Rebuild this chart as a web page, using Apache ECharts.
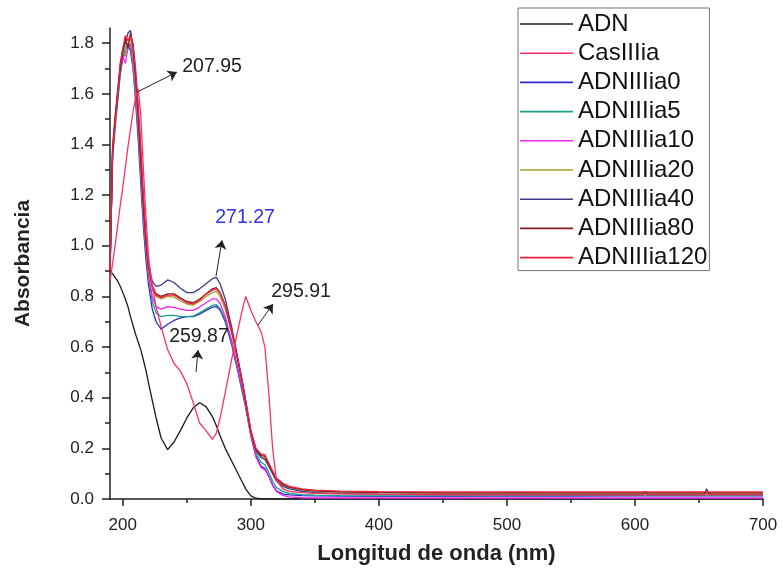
<!DOCTYPE html>
<html>
<head>
<meta charset="utf-8">
<script src="https://cdn.jsdelivr.net/npm/echarts@6/dist/echarts.min.js"></script>
<style>
  html, body { margin: 0; padding: 0; background: #fff; }
  #chart { width: 783px; height: 581px; }
</style>
</head>
<body>
<div id="chart"></div>
<script>
/* longitudes de onda (nm) */
const wl = [
    190, 192, 194, 196, 198,
    200, 202, 204, 206, 208,
    210, 212, 214, 216, 218,
    220, 223, 226, 230, 235,
    240, 245, 250, 255, 260,
    265, 270, 273, 276, 280,
    285, 290, 293, 296, 300,
    304, 308, 311, 314, 317,
    320, 325, 330, 340, 350,
    370, 400, 450, 500, 550,
    600, 606, 608, 610, 650,
    654, 656, 658, 700
];

const adn = [
    0.90, 0.89, 0.875, 0.86, 0.84,
    0.815, 0.79, 0.76, 0.72, 0.685,
    0.65, 0.62, 0.59, 0.55, 0.51,
    0.46, 0.39, 0.32, 0.24, 0.195,
    0.225, 0.27, 0.32, 0.36, 0.38,
    0.365, 0.325, 0.29, 0.25, 0.20,
    0.15, 0.10, 0.07, 0.04, 0.012,
    0.003, 0, 0, 0, 0,
    0, 0, 0, 0, 0,
    0, 0, 0, 0, 0,
    0, 0, 0, 0, 0,
    0, 0, 0, 0
];

const casIIIia = [
    0.86, 0.93, 1.00, 1.08, 1.16,
    1.23, 1.31, 1.39, 1.46, 1.53,
    1.585, 1.62, 1.52, 1.31, 1.12,
    0.96, 0.84, 0.76, 0.68, 0.59,
    0.535, 0.505, 0.455, 0.38, 0.30,
    0.27, 0.235, 0.26, 0.32, 0.42,
    0.55, 0.67, 0.74, 0.80, 0.745,
    0.70, 0.66, 0.60, 0.42, 0.20,
    0.075, 0.04, 0.03, 0.025, 0.022,
    0.02, 0.018, 0.016, 0.016, 0.016,
    0.016, 0.016, 0.016, 0.016, 0.016,
    0.016, 0.016, 0.016, 0.016
];

const adnIIIia0 = [
    0.90, 1.36, 1.48, 1.58, 1.68,
    1.74, 1.76, 1.79, 1.77, 1.70,
    1.57, 1.42, 1.25, 1.08, 0.95,
    0.85, 0.75, 0.70, 0.67, 0.69,
    0.705, 0.715, 0.72, 0.72, 0.73,
    0.745, 0.758, 0.76, 0.745, 0.70,
    0.61, 0.50, 0.43, 0.36, 0.25,
    0.17, 0.13, 0.12, 0.09, 0.055,
    0.032, 0.02, 0.016, 0.013, 0.012,
    0.011, 0.01, 0.01, 0.011, 0.011,
    0.012, 0.012, 0.012, 0.012, 0.012,
    0.012, 0.012, 0.012, 0.012
];

const adnIIIia5 = [
    0.90, 1.34, 1.47, 1.57, 1.68,
    1.75, 1.78, 1.80, 1.78, 1.71,
    1.59, 1.45, 1.28, 1.11, 0.98,
    0.88, 0.78, 0.735, 0.72, 0.725,
    0.725, 0.72, 0.72, 0.722, 0.735,
    0.75, 0.765, 0.768, 0.752, 0.71,
    0.62, 0.51, 0.44, 0.37, 0.255,
    0.18, 0.145, 0.135, 0.105, 0.07,
    0.045, 0.03, 0.022, 0.017, 0.015,
    0.013, 0.012, 0.012, 0.012, 0.013,
    0.013, 0.013, 0.013, 0.013, 0.013,
    0.013, 0.013, 0.013, 0.013
];

const adnIIIia10 = [
    0.90, 1.35, 1.48, 1.59, 1.70,
    1.75, 1.72, 1.78, 1.80, 1.72,
    1.60, 1.46, 1.29, 1.12, 0.99,
    0.89, 0.80, 0.76, 0.75, 0.76,
    0.757, 0.75, 0.745, 0.745, 0.758,
    0.775, 0.79, 0.79, 0.772, 0.72,
    0.625, 0.515, 0.445, 0.37, 0.25,
    0.165, 0.125, 0.115, 0.09, 0.055,
    0.03, 0.014, 0.008, 0.005, 0.004,
    0.004, 0.004, 0.004, 0.004, 0.004,
    0.004, 0.004, 0.004, 0.004, 0.004,
    0.004, 0.004, 0.004, 0.004
];

const adnIIIia20 = [
    0.90, 1.40, 1.52, 1.62, 1.72,
    1.78, 1.75, 1.80, 1.82, 1.75,
    1.63, 1.49, 1.32, 1.15, 1.01,
    0.91, 0.83, 0.80, 0.79, 0.80,
    0.797, 0.782, 0.77, 0.765, 0.78,
    0.80, 0.815, 0.82, 0.80, 0.75,
    0.655, 0.54, 0.465, 0.38, 0.262,
    0.19, 0.165, 0.16, 0.13, 0.10,
    0.075, 0.055, 0.045, 0.035, 0.03,
    0.026, 0.024, 0.022, 0.022, 0.022,
    0.022, 0.022, 0.022, 0.022, 0.022,
    0.022, 0.022, 0.022, 0.022
];

const adnIIIia40 = [
    0.90, 1.38, 1.50, 1.61, 1.71,
    1.77, 1.80, 1.84, 1.85, 1.78,
    1.66, 1.51, 1.34, 1.16, 1.02,
    0.92, 0.86, 0.84, 0.845, 0.865,
    0.855, 0.832, 0.815, 0.815, 0.83,
    0.85, 0.87, 0.875, 0.85, 0.79,
    0.68, 0.55, 0.47, 0.385, 0.265,
    0.19, 0.165, 0.155, 0.13, 0.10,
    0.07, 0.05, 0.04, 0.03, 0.025,
    0.021, 0.019, 0.017, 0.017, 0.017,
    0.017, 0.017, 0.03, 0.017, 0.017,
    0.017, 0.04, 0.018, 0.017
];

const adnIIIia80 = [
    0.90, 1.37, 1.50, 1.60, 1.70,
    1.77, 1.82, 1.78, 1.84, 1.79,
    1.68, 1.53, 1.36, 1.18, 1.03,
    0.92, 0.84, 0.81, 0.80, 0.81,
    0.81, 0.795, 0.78, 0.775, 0.79,
    0.81, 0.83, 0.835, 0.815, 0.765,
    0.665, 0.545, 0.47, 0.385, 0.268,
    0.197, 0.172, 0.168, 0.138, 0.107,
    0.08, 0.058, 0.047, 0.037, 0.032,
    0.028, 0.026, 0.024, 0.024, 0.024,
    0.024, 0.024, 0.024, 0.024, 0.024,
    0.024, 0.024, 0.024, 0.024
];

const adnIIIia120 = [
    0.90, 1.36, 1.49, 1.60, 1.72,
    1.78, 1.83, 1.81, 1.83, 1.80,
    1.70, 1.56, 1.40, 1.21, 1.05,
    0.93, 0.845, 0.805, 0.795, 0.805,
    0.805, 0.79, 0.775, 0.77, 0.785,
    0.81, 0.825, 0.83, 0.812, 0.765,
    0.668, 0.55, 0.475, 0.39, 0.272,
    0.20, 0.178, 0.175, 0.142, 0.11,
    0.083, 0.062, 0.05, 0.04, 0.035,
    0.031, 0.029, 0.028, 0.028, 0.028,
    0.028, 0.028, 0.028, 0.028, 0.028,
    0.028, 0.028, 0.028, 0.028
];

const legendNames = ['ADN', 'CasIIIia', 'ADNIIIia0', 'ADNIIIia5', 'ADNIIIia10',
    'ADNIIIia20', 'ADNIIIia40', 'ADNIIIia80', 'ADNIIIia120'];

const xMajorTicks = [200, 300, 400, 500, 600, 700];
const xMinorTicks = [250, 350, 450, 550, 650];
const yMajorTicks = [0, 0.2, 0.4, 0.6, 0.8, 1.0, 1.2, 1.4, 1.6, 1.8];
const yMinorTicks = [0.1, 0.3, 0.5, 0.7, 0.9, 1.1, 1.3, 1.5, 1.7];

/* anotaciones: texto y flecha (en unidades de datos) */
const notes = [
    { text: '207.95', at: [269.7, 1.709], from: [211.1, 1.607], to: [242.3, 1.686], color: '#222' },
    { text: '271.27', at: [295.5, 1.113], from: [272.8, 0.880], to: [277.5, 1.022], color: '#3030ee' },
    { text: '295.91', at: [339.2, 0.817], from: [305.6, 0.687], to: [317.3, 0.770], color: '#222' },
    { text: '259.87', at: [259.5, 0.643], from: [257.2, 0.501], to: [258.75, 0.588], color: '#222' }
];

const FONT = 'Liberation Sans, Arial, sans-serif';

function mkSeries(name, values, color, extra) {
    return Object.assign({
        name: name,
        type: 'line',
        data: wl.map((x, i) => [x, values[i]]),
        symbol: 'none',
        lineStyle: { color: color, width: 1.3 },
        itemStyle: { color: color },
        animation: false,
        z: 2
    }, extra || {});
}

window.renderChart = function () {
    const el = document.getElementById('chart');
    const chart = echarts.init(el, null, { renderer: 'canvas' });

    const series = [
        mkSeries('ADN', adn, '#1a1a1a', {
            markLine: {
                silent: true,
                animation: false,
                symbol: ['none', 'arrow'],
                symbolSize: 9,
                lineStyle: { color: '#222', width: 1, type: 'solid' },
                label: { show: false },
                data: notes.map(n => [{ coord: n.from }, { coord: n.to }])
            },
            markPoint: {
                silent: true,
                animation: false,
                symbol: 'circle',
                symbolSize: 0,
                data: notes.map(n => ({
                    coord: n.at,
                    name: n.text,
                    label: {
                        show: true,
                        position: 'inside',
                        formatter: '{b}',
                        color: n.color,
                        fontSize: 19.5,
                        fontFamily: FONT
                    }
                }))
            }
        }),
        mkSeries('ADNIIIia0', adnIIIia0, '#2b2bd6'),
        mkSeries('ADNIIIia5', adnIIIia5, '#17a085'),
        mkSeries('ADNIIIia10', adnIIIia10, '#f020f0'),
        mkSeries('ADNIIIia20', adnIIIia20, '#a8a032'),
        mkSeries('ADNIIIia40', adnIIIia40, '#3c3c86'),
        mkSeries('ADNIIIia80', adnIIIia80, '#7e1c22'),
        mkSeries('ADNIIIia120', adnIIIia120, '#f0203c'),
        mkSeries('CasIIIia', casIIIia, '#ff3060')
    ];

    const option = {
        backgroundColor: '#fff',
        animation: false,
        textStyle: { fontFamily: FONT },
        grid: { left: 110, right: 20, top: 28, bottom: 82, containLabel: false },
        legend: {
            data: legendNames,
            orient: 'vertical',
            left: 518,
            top: 8,
            icon: 'rect',
            itemWidth: 53,
            itemHeight: 1.6,
            itemGap: 5.2,
            padding: [4, 2, 1, 2],
            borderColor: '#777',
            borderWidth: 1,
            textStyle: { fontSize: 24, lineHeight: 24, color: '#111', fontFamily: FONT }
        },
        xAxis: [{
            type: 'value',
            min: 190,
            max: 700,
            name: 'Longitud de onda (nm)',
            nameLocation: 'middle',
            nameGap: 44,
            nameTextStyle: { fontSize: 22, fontWeight: 'bold', color: '#222', fontFamily: FONT },
            axisLine: { show: true, onZero: false, lineStyle: { color: '#222', width: 1.5 } },
            axisTick: { show: true, customValues: xMajorTicks, length: 7, lineStyle: { color: '#222', width: 1.5 } },
            axisLabel: { customValues: xMajorTicks, margin: 18, fontSize: 17, color: '#222', fontFamily: FONT },
            splitLine: { show: false }
        }, {
            type: 'value',
            min: 190,
            max: 700,
            position: 'bottom',
            axisLine: { show: false },
            axisTick: { show: true, customValues: xMinorTicks, length: 4, lineStyle: { color: '#222', width: 1.5 } },
            axisLabel: { show: false },
            splitLine: { show: false }
        }],
        yAxis: [{
            type: 'value',
            min: 0,
            max: 1.86,
            name: 'Absorbancia',
            nameLocation: 'middle',
            nameGap: 76,
            nameTextStyle: { fontSize: 21, fontWeight: 'bold', color: '#222', fontFamily: FONT },
            axisLine: { show: true, onZero: false, lineStyle: { color: '#222', width: 1.5 } },
            axisTick: { show: true, customValues: yMajorTicks, length: 8, lineStyle: { color: '#222', width: 1.5 } },
            axisLabel: {
                customValues: yMajorTicks,
                margin: 16,
                fontSize: 17,
                color: '#222',
                fontFamily: FONT,
                formatter: v => v.toFixed(1)
            },
            splitLine: { show: false }
        }, {
            type: 'value',
            min: 0,
            max: 1.86,
            position: 'left',
            axisLine: { show: false },
            axisTick: { show: true, customValues: yMinorTicks, length: 5, lineStyle: { color: '#222', width: 1.5 } },
            axisLabel: { show: false },
            splitLine: { show: false }
        }],
        series: series
    };

    chart.setOption(option);
    chart.resize();
};

window.renderChart();
</script>
</body>
</html>
